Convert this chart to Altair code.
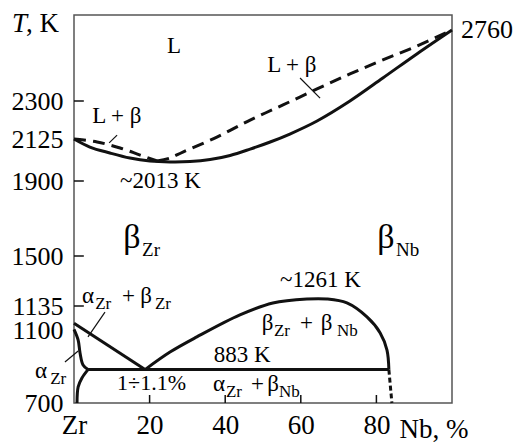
import altair as alt
import pandas as pd

# ---- axis ticks (schematic, non-uniform temperature axis) ----
y_ticks = [700, 1100, 1135, 1500, 1900, 2125, 2300, 2760]
y_labels = [700, 1100, 1135, 1500, 1900, 2125, 2300]
x_ticks = [0, 20, 40, 60, 80]

# ---- phase boundaries (x = Nb, %, T = K) ----
solidus_x = [0, 4.2, 9.5, 14.8, 20.1, 25.4, 30.7, 36.0, 41.3, 46.6, 51.9, 57.1, 64.3, 73.0, 81.7, 90.7, 100]
solidus_T = [2125, 2082, 2050, 2023, 2007, 2002, 2004, 2015, 2037, 2071, 2109, 2148, 2208, 2300, 2449, 2605, 2760]

liqL_x = [0, 6.1, 12.2, 17.5, 22.0]
liqL_T = [2125, 2109, 2077, 2039, 2007]
liqR_x = [22.0, 25.4, 28.8, 37.8, 46.6, 55.3, 64.3, 73.0, 81.7, 90.7, 100]
liqR_T = [2007, 2023, 2055, 2134, 2212, 2282, 2378, 2475, 2566, 2656, 2760]

btrans_x = [0, 18.8]
btrans_T = [1110, 883]
atrans_x = [0, 1.1, 1.6, 2.4, 3.7]
atrans_T = [1101, 1045, 974, 908, 883]
asolv_x = [3.7, 2.1, 1.1, 0.8]
asolv_T = [883, 837, 788, 700]
eut_x = [3.7, 83.3]
eut_T = [883, 883]
gap_x = [18.8, 25.4, 32.5, 43.9, 52.6, 61.6, 66.9, 72.2, 77.5, 81.0, 82.8, 83.3]
gap_T = [883, 979, 1062, 1122, 1157, 1186, 1186, 1157, 1119, 1084, 990, 883]
gapdash_x = [83.3, 84.1]
gapdash_T = [883, 700]

# pointer lines
ptr = {
    "p1": ([11.4, 9.3], [2143, 2104]),
    "p2": ([59.8, 65.1], [2449, 2319]),
    "p3": ([8.2, 3.7], [1126, 1062]),
    "p4": ([-2.4, 1.1], [925, 985]),
}

# inward ticks
ytick_T = [1135, 1500, 1900, 2300]
xtick_x = [20, 40, 60, 80]

# labels: text, x, T, size
labels = [
    ("L", 24.6, 2611, 23),
    ("L + β", 4.8, 2199, 23),
    ("L + β", 51.1, 2488, 23),
    ("~2013 K", 12.2, 1863, 23),
    ("β", 13.0, 1543, 34), ("Zr", 18.0, 1500, 19),
    ("β", 80.2, 1543, 34), ("Nb", 85.2, 1500, 19),
    ("α", 2.1, 1157, 23), ("Zr", 5.6, 1131, 17),
    ("+", 12.7, 1157, 23), ("β", 17.5, 1157, 23), ("Zr", 21.4, 1131, 17),
    ("α", -10.3, 837, 23), ("Zr", -6.3, 804, 17),
    ("1÷1.1%", 11.4, 771, 22),
    ("883 K", 37.0, 925, 23),
    ("~1261 K", 54.5, 1274, 23),
    ("β", 49.7, 1100, 23), ("Zr", 52.9, 1067, 17),
    ("+", 59.8, 1100, 23), ("β", 65.3, 1100, 23), ("Nb", 69.6, 1067, 17),
    ("α", 36.8, 766, 23), ("Zr", 40.2, 733, 17),
    ("+", 46.8, 766, 23), ("β", 51.1, 766, 23), ("Nb", 54.2, 733, 17),
    (", K", -12.7, 2747, 27),
    ("2760", 102.4, 2705, 26),
]
italic_labels = [("T", -16.4, 2747, 27)]


def frame(name, xs, ts):
    return pd.DataFrame({"x": xs, "T": ts, "curve": name, "i": range(len(xs))})


smooth_df = pd.concat([
    frame("solidus", solidus_x, solidus_T),
    frame("gap", gap_x, gap_T),
    frame("atrans", atrans_x, atrans_T),
    frame("asolv", asolv_x, asolv_T),
])
straight_df = pd.concat([
    frame("btrans", btrans_x, btrans_T),
    frame("eut", eut_x, eut_T),
])
liq_df = pd.concat([frame("liqL", liqL_x, liqL_T), frame("liqR", liqR_x, liqR_T)])
gapdash_df = frame("gapdash", gapdash_x, gapdash_T)
ptr_df = pd.concat([frame(k, v[0], v[1]) for k, v in ptr.items()])
ytick_df = pd.concat([frame(f"y{t}", [0, 2.6], [t, t]) for t in ytick_T])
xtick_df = pd.concat([frame(f"x{v}", [v, v], [700, 744]) for v in xtick_x])
lab_df = pd.DataFrame(labels, columns=["text", "x", "T", "size"])
ital_df = pd.DataFrame(italic_labels, columns=["text", "x", "T", "size"])

FONT = "Liberation Serif, Times New Roman, serif"
ysc = alt.Scale(domain=y_ticks, range=[388, 315, 291, 241, 166, 124, 86, 15], zero=False, nice=False)
xsc = alt.Scale(domain=[0, 100], zero=False, nice=False)

x_axis = alt.Axis(values=x_ticks, labelExpr="datum.value == 0 ? 'Zr' : datum.label",
                  labelFont=FONT, labelFontSize=27, labelColor="black", labelPadding=9,
                  tickSize=0, domain=False, grid=False, labelFlush=False,
                  title="Nb, %", titleFont=FONT, titleFontSize=27, titleFontWeight="normal",
                  titleColor="black", titleX=325, titleY=34, titleAlign="left",
                  titleBaseline="alphabetic", titleAnchor="start")
y_axis = alt.Axis(values=y_labels, format="d", labelFont=FONT, labelFontSize=26, labelColor="black",
                  labelPadding=11, tickSize=0, domain=False, grid=False, labelOverlap=False,
                  labelFlush=False, title="")


def enc(ch):
    return ch.encode(
        x=alt.X("x:Q", scale=xsc, axis=x_axis),
        y=alt.Y("T:Q", scale=ysc, axis=y_axis),
    )


def line_layer(df, **kw):
    return enc(alt.Chart(df).mark_line(color="#111111", **kw)).encode(
        detail="curve:N", order="i:Q")


def text_layer(df, **kw):
    return enc(alt.Chart(df).mark_text(font=FONT, align="left", baseline="alphabetic",
                                       color="black", **kw)).encode(
        text="text:N",
        size=alt.Size("size:Q", scale=None, legend=None),
    )


layers = [
    line_layer(smooth_df, strokeWidth=3, interpolate="catmull-rom"),
    line_layer(straight_df, strokeWidth=3),
    line_layer(liq_df, strokeWidth=3, strokeDash=[12, 7], interpolate="catmull-rom"),
    line_layer(gapdash_df, strokeWidth=3, strokeDash=[5, 3]),
    line_layer(ptr_df, strokeWidth=1.2),
    line_layer(ytick_df, strokeWidth=1.5),
    line_layer(xtick_df, strokeWidth=1.5),
    text_layer(lab_df),
    text_layer(ital_df, fontStyle="italic"),
]

chart = alt.layer(*layers).properties(
    width=378, height=388,
    autosize=alt.AutoSizeParams(type="none"),
    padding={"left": 66, "top": 7, "right": 62, "bottom": 41},
).configure_view(stroke="#555555", strokeWidth=1.5)

chart.save("out.html", embed_options={"renderer": "svg", "actions": False})
